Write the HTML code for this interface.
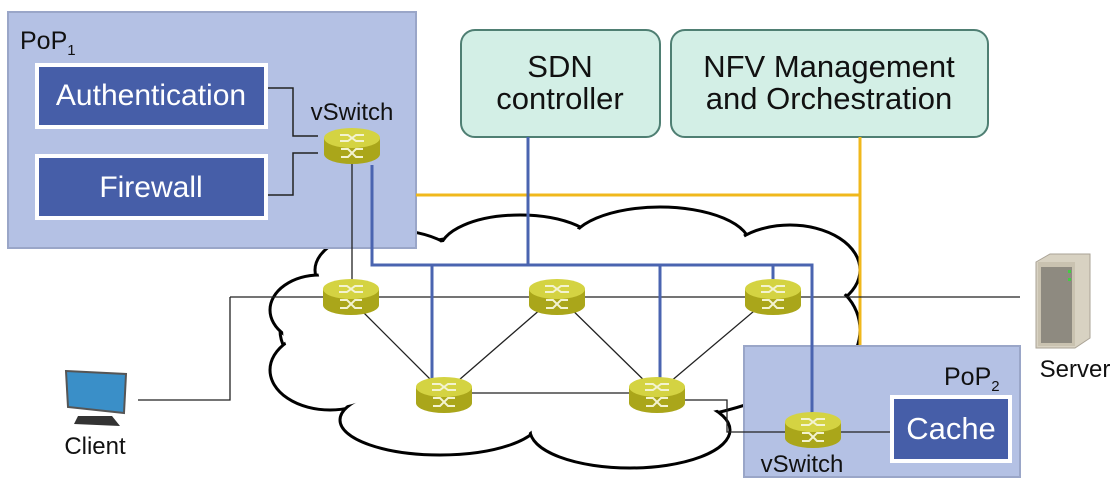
<!DOCTYPE html>
<html><head><style>body{margin:0;background:#fff}svg{display:block;font-family:"Liberation Sans",sans-serif}</style></head><body>
<svg width="1116" height="491" viewBox="0 0 1116 491">
<defs>
<g id="r">
<path d="M-28,-8 L-28,8 A28,10 0 0 0 28,8 L28,-8 Z" fill="#aaa61a"/>
<ellipse cx="0" cy="-8" rx="28" ry="10" fill="#d4d342"/>
<path d="M-12,-11 L-4,-11 L4,-5 L12,-5 M-12,-5 L-4,-5 L4,-11 L12,-11 M-11,3 L-4,3 L4,11 L11,11 M-11,11 L-4,11 L4,3 L11,3" stroke="#f3f3d0" stroke-width="2" fill="none"/>
</g>
</defs>
<!-- cloud -->
<g fill="#fff" stroke="#000" stroke-width="3">
<ellipse cx="560" cy="330" rx="280" ry="100"/>
<ellipse cx="390" cy="270" rx="75" ry="40"/>
<ellipse cx="520" cy="250" rx="80" ry="35"/>
<ellipse cx="660" cy="245" rx="90" ry="38"/>
<ellipse cx="790" cy="270" rx="70" ry="45"/>
<ellipse cx="320" cy="310" rx="50" ry="35"/>
<ellipse cx="330" cy="370" rx="60" ry="40"/>
<ellipse cx="440" cy="420" rx="100" ry="35"/>
<ellipse cx="630" cy="430" rx="100" ry="38"/>
<ellipse cx="810" cy="330" rx="50" ry="50"/>
</g>
<g fill="#fff">
<ellipse cx="560" cy="330" rx="277" ry="97"/>
<ellipse cx="390" cy="270" rx="72" ry="37"/>
<ellipse cx="520" cy="250" rx="77" ry="32"/>
<ellipse cx="660" cy="245" rx="87" ry="35"/>
<ellipse cx="790" cy="270" rx="67" ry="42"/>
<ellipse cx="320" cy="310" rx="47" ry="32"/>
<ellipse cx="330" cy="370" rx="57" ry="37"/>
<ellipse cx="440" cy="420" rx="97" ry="32"/>
<ellipse cx="630" cy="430" rx="97" ry="35"/>
<ellipse cx="810" cy="330" rx="47" ry="47"/>
</g>
<!-- PoP1 -->
<rect x="8" y="12" width="408" height="236" fill="#b4c1e4" stroke="#9aa6c8" stroke-width="2"/>
<text x="20" y="49" font-size="25" fill="#111">PoP<tspan font-size="15" dy="6">1</tspan></text>
<rect x="35" y="63" width="233" height="66" fill="#fff"/><rect x="39" y="67" width="225" height="58" fill="#465ea8"/>
<text x="151" y="105" font-size="30" fill="#fff" text-anchor="middle">Authentication</text>
<rect x="35" y="154" width="233" height="66" fill="#fff"/><rect x="39" y="158" width="225" height="58" fill="#465ea8"/>
<text x="151" y="197" font-size="30" fill="#fff" text-anchor="middle">Firewall</text>
<path d="M268,88 H293 V136 H318 M268,195 H293 V153 H318" stroke="#222" stroke-width="1.5" fill="none"/>
<text x="352" y="120" font-size="24" text-anchor="middle" fill="#111">vSwitch</text>
<!-- controllers -->
<rect x="461" y="30" width="199" height="107" rx="14" fill="#d3efe6" stroke="#4f7f73" stroke-width="2"/>
<text x="560" y="77" font-size="31" text-anchor="middle" fill="#111">SDN</text>
<text x="560" y="109" font-size="31" text-anchor="middle" fill="#111">controller</text>
<rect x="671" y="30" width="317" height="107" rx="14" fill="#d3efe6" stroke="#4f7f73" stroke-width="2"/>
<text x="829" y="77" font-size="31" text-anchor="middle" fill="#111">NFV Management</text>
<text x="829" y="109" font-size="31" text-anchor="middle" fill="#111">and Orchestration</text>
<!-- yellow -->
<path d="M416,195 H860 M860,137 V345" stroke="#f0b81c" stroke-width="3" fill="none"/>
<!-- PoP2 -->
<rect x="744" y="346" width="276" height="131" fill="#b4c1e4" stroke="#9aa6c8" stroke-width="2"/>
<text x="944" y="385" font-size="25" fill="#111">PoP<tspan font-size="15" dy="6">2</tspan></text>
<rect x="890" y="395" width="122" height="68" fill="#fff"/><rect x="894" y="399" width="114" height="60" fill="#465ea8"/>
<text x="951" y="439" font-size="31" fill="#fff" text-anchor="middle">Cache</text>
<text x="802" y="472" font-size="24" text-anchor="middle" fill="#111">vSwitch</text>
<!-- black links -->
<g stroke="#222" stroke-width="1.3" fill="none">
<path d="M352,160 V290"/>
<path d="M230,297 H1020"/>
<path d="M138,400 H230 V297"/>
<path d="M351,300 L444,393 L557,295 L657,393 L773,295"/>
<path d="M444,393 H657"/>
<path d="M657,400 H727 V432 H812 H890"/>
</g>
<!-- blue -->
<path d="M528,137 V265 M372,165 V265 H812 V430 M432,265 V388 M660,265 V388 M773,265 V290" stroke="#4a64b0" stroke-width="3" fill="none"/>
<!-- routers -->
<use href="#r" x="352" y="146"/>
<use href="#r" x="351" y="297"/>
<use href="#r" x="557" y="297"/>
<use href="#r" x="773" y="297"/>
<use href="#r" x="444" y="395"/>
<use href="#r" x="657" y="395"/>
<use href="#r" x="813" y="430"/>
<!-- server -->
<path d="M1036,262 L1050,254 L1090,254 L1090,338 L1075,348 L1036,348 Z" fill="#d8d2c2" stroke="#aaa396"/>
<rect x="1038" y="262" width="37" height="84" fill="#c9c2b0"/>
<rect x="1041" y="267" width="31" height="76" fill="#8e8a80"/>
<rect x="1068" y="270" width="3" height="3" fill="#4c4"/><rect x="1068" y="278" width="3" height="3" fill="#4c4"/>
<text x="1075" y="377" font-size="24" text-anchor="middle" fill="#111">Server</text>
<!-- client -->
<path d="M66,371 L126,374 L124,413 L68,407 Z" fill="#3a8fc8" stroke="#555" stroke-width="2"/>
<path d="M78,416 L112,416 L120,426 L74,424 Z" fill="#333"/>
<text x="95" y="454" font-size="24" text-anchor="middle" fill="#111">Client</text>
</svg>
</body></html>
